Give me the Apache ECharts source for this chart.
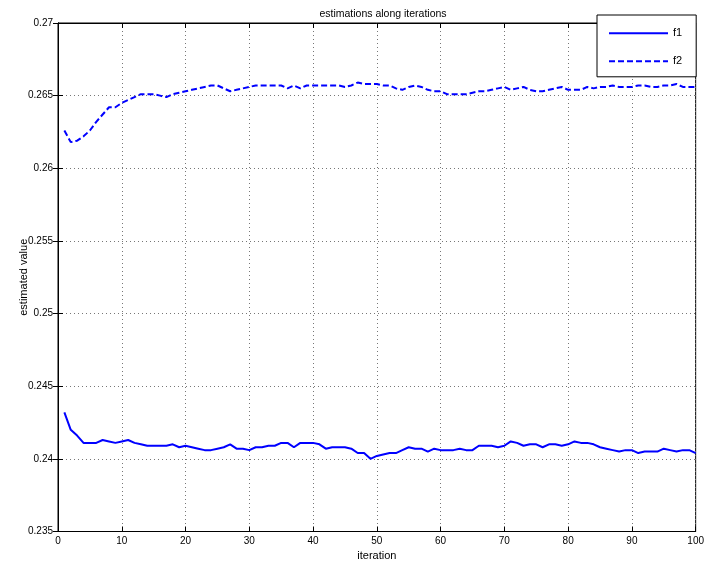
<!DOCTYPE html>
<html>
<head>
<meta charset="utf-8">
<script src="https://cdn.jsdelivr.net/npm/echarts@6/dist/echarts.min.js"></script>
<style>html,body{margin:0;padding:0;background:#fff}#c{width:707px;height:566px}</style>
</head>
<body>
<div id="c"></div>
<script>
const titleText = 'estimations along iterations';
const xName = 'iteration';
const yName = 'estimated value';
const seriesNames = ['f1', 'f2'];
const yTicks = [0.235, 0.24, 0.245, 0.25, 0.255, 0.26, 0.265, 0.27];
const xTicks = [0, 10, 20, 30, 40, 50, 60, 70, 80, 90, 100];
const iterations = Array.from({length: 100}, (_, k) => k + 1);
const f1 = [
0.2432,0.2420,0.2416,0.2411,0.2411,0.2411,0.2413,0.2412,0.2411,0.2412,
0.2413,0.2411,0.2410,0.2409,0.2409,0.2409,0.2409,0.2410,0.2408,0.2409,
0.2408,0.2407,0.2406,0.2406,0.2407,0.2408,0.2410,0.2407,0.2407,0.2406,
0.2408,0.2408,0.2409,0.2409,0.2411,0.2411,0.2408,0.2411,0.2411,0.2411,
0.2410,0.2407,0.2408,0.2408,0.2408,0.2407,0.2404,0.2404,0.2400,0.2402,
0.2403,0.2404,0.2404,0.2406,0.2408,0.2407,0.2407,0.2405,0.2407,0.2406,
0.2406,0.2406,0.2407,0.2406,0.2406,0.2409,0.2409,0.2409,0.2408,0.2409,
0.2412,0.2411,0.2409,0.2410,0.2410,0.2408,0.2410,0.2410,0.2409,0.2410,
0.2412,0.2411,0.2411,0.2410,0.2408,0.2407,0.2406,0.2405,0.2406,0.2406,
0.2404,0.2405,0.2405,0.2405,0.2407,0.2406,0.2405,0.2406,0.2406,0.2404
];
const f2 = [
0.2626,0.2618,0.2619,0.2622,0.2626,0.2632,0.2637,0.2642,0.2642,0.2645,
0.2647,0.2649,0.2651,0.2651,0.2651,0.2650,0.2649,0.2651,0.2652,0.2653,
0.2654,0.2655,0.2656,0.2657,0.2657,0.2655,0.2653,0.2654,0.2655,0.2656,
0.2657,0.2657,0.2657,0.2657,0.2657,0.2655,0.2657,0.2655,0.2657,0.2657,
0.2657,0.2657,0.2657,0.2657,0.2656,0.2657,0.2659,0.2658,0.2658,0.2658,
0.2657,0.2657,0.2655,0.2654,0.2656,0.2657,0.2656,0.2654,0.2653,0.2653,
0.2651,0.2651,0.2651,0.2651,0.2652,0.2653,0.2653,0.2654,0.2655,0.2656,
0.2654,0.2655,0.2656,0.2654,0.2653,0.2653,0.2654,0.2655,0.2656,0.2654,
0.2654,0.2654,0.2656,0.2655,0.2656,0.2656,0.2657,0.2656,0.2656,0.2656,
0.2657,0.2657,0.2656,0.2656,0.2657,0.2657,0.2658,0.2656,0.2656,0.2656
];

const FONT = 'Liberation Sans, Arial, sans-serif';
const fmtY = v => {
  let s = (+v).toFixed(3);
  s = s.replace(/0+$/, '').replace(/\.$/, '');
  return s;
};
const gridLine = {show: true, lineStyle: {color: '#777', width: 1, type: [1, 3]}};
const axisLineBlack = {show: true, lineStyle: {color: '#000', width: 1}};

const chart = echarts.init(document.getElementById('c'), null, {renderer: 'canvas'});
chart.setOption({
  animation: false,
  backgroundColor: '#fff',
  title: {
    text: titleText, left: 378, top: 4, textAlign: 'center',
    textStyle: {fontFamily: FONT, fontSize: 10.5, fontWeight: 'normal', color: '#000'}
  },
  grid: {left: 58, right: 9, top: 23, bottom: 31.5, show: true, borderColor: '#000', borderWidth: 1, backgroundColor: 'transparent'},
  legend: {
    orient: 'vertical', left: 597, top: 15,
    data: seriesNames,
    itemWidth: 59, itemHeight: 14, itemGap: 16.8,
    padding: [12.6, 14, 10, 11],
    backgroundColor: '#fff', borderColor: '#000', borderWidth: 1,
    itemStyle: {opacity: 0},
    textStyle: {fontFamily: FONT, fontSize: 11, color: '#000'}
  },
  xAxis: [{
    type: 'value', min: 0, max: 100, interval: 10,
    name: xName, nameLocation: 'middle', nameGap: 18.5, nameMoveOverlap: false,
    nameTextStyle: {fontFamily: FONT, fontSize: 11, color: '#000'},
    axisLine: axisLineBlack,
    axisTick: {show: true, inside: true, length: 5, lineStyle: {color: '#000'}},
    axisLabel: {fontFamily: FONT, fontSize: 10, color: '#000', margin: 5, formatter: v => xTicks.includes(v) ? String(v) : ''},
    splitLine: gridLine
  }, {
    type: 'value', min: 0, max: 100, interval: 10, position: 'top',
    axisLine: axisLineBlack,
    axisTick: {show: true, inside: true, length: 5, lineStyle: {color: '#000'}},
    axisLabel: {show: false}, splitLine: {show: false}
  }],
  yAxis: [{
    type: 'value', min: 0.235, max: 0.27, interval: 0.005,
    name: yName, nameLocation: 'middle', nameGap: 29, nameRotate: 90, nameMoveOverlap: false,
    nameTextStyle: {fontFamily: FONT, fontSize: 11, color: '#000'},
    axisLine: axisLineBlack,
    axisTick: {show: true, inside: true, length: 5, lineStyle: {color: '#000'}},
    axisLabel: {fontFamily: FONT, fontSize: 10, color: '#000', margin: 5, formatter: fmtY},
    splitLine: gridLine
  }, {
    type: 'value', min: 0.235, max: 0.27, interval: 0.005, position: 'right',
    axisLine: axisLineBlack,
    axisTick: {show: true, inside: true, length: 5, lineStyle: {color: '#000'}},
    axisLabel: {show: false}, splitLine: {show: false}
  }],
  series: [{
    name: seriesNames[0], type: 'line', symbol: 'none', xAxisIndex: 0, yAxisIndex: 0,
    data: iterations.map((x, k) => [x, f1[k]]),
    lineStyle: {color: '#0000ff', width: 2, type: 'solid'},
    itemStyle: {color: '#0000ff'}
  }, {
    name: seriesNames[1], type: 'line', symbol: 'none', xAxisIndex: 0, yAxisIndex: 0,
    data: iterations.map((x, k) => [x, f2[k]]),
    lineStyle: {color: '#0000ff', width: 2, type: [6, 3]},
    itemStyle: {color: '#0000ff'}
  }]
});
</script>
</body>
</html>
